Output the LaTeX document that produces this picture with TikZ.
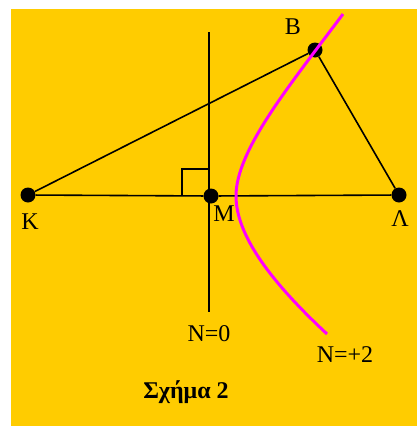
\documentclass[tikz,border=0pt]{standalone}
\usepackage{fontspec}
\setmainfont{Liberation Serif}
\usetikzlibrary{positioning}
\definecolor{bgyellow}{HTML}{FFCC00}
\definecolor{hypmag}{HTML}{FF00FF}

\begin{document}
\begin{tikzpicture}[x=1pt,y=-1pt,font=\fontsize{24}{27}\selectfont,
    dot/.style={circle,fill=black,inner sep=0pt,minimum size=15pt},
    lbl/.style={inner sep=0pt},
    seg/.style={line width=1.6pt}]
    \useasboundingbox (0,0) rectangle (417,426);
    \fill[bgyellow] (11,9) rectangle (417,426);
    \coordinate (ntop) at (209,32); \coordinate (nbot) at (209,312);
    \draw[seg] (ntop)--(nbot);
    \draw[line width=1.3pt] (182,196) |- (209,169);
    \node[dot] (K) at (28,195) {};
    \node[dot] (M) at (211,196) {};
    \node[dot] (L) at (399,195) {};
    \node[dot] (B) at (315,50) {};
    \draw[seg] (K)--(M); \draw[seg] (M)--(L);
    \draw[seg] (K)--(B); \draw[seg] (B)--(L);
    % curve N=+2
    \coordinate (vtx) at (236,196);
    \draw[hypmag,line width=3pt] (343,14) .. controls (290,85) and (236,150) .. (vtx)
        .. controls (236,240) and (280,290) .. (327,334);
    \node[lbl] (labB) at (293,27) {B};
    \node[lbl] (labK) at (30,222) {K};
    \node[lbl] (labM) at (224,214) {M};
    \node[lbl] (labL) at (400,219) {Λ};
    \node[lbl] (labN0) at (209,334) {N=0};
    \node[lbl] (labN2) at (345,355) {N=+2};
    \node[lbl,font={\fontsize{24}{27}\selectfont\bfseries}] (caption) at (186,392) {Σχήμα 2};
\end{tikzpicture}
\end{document}
